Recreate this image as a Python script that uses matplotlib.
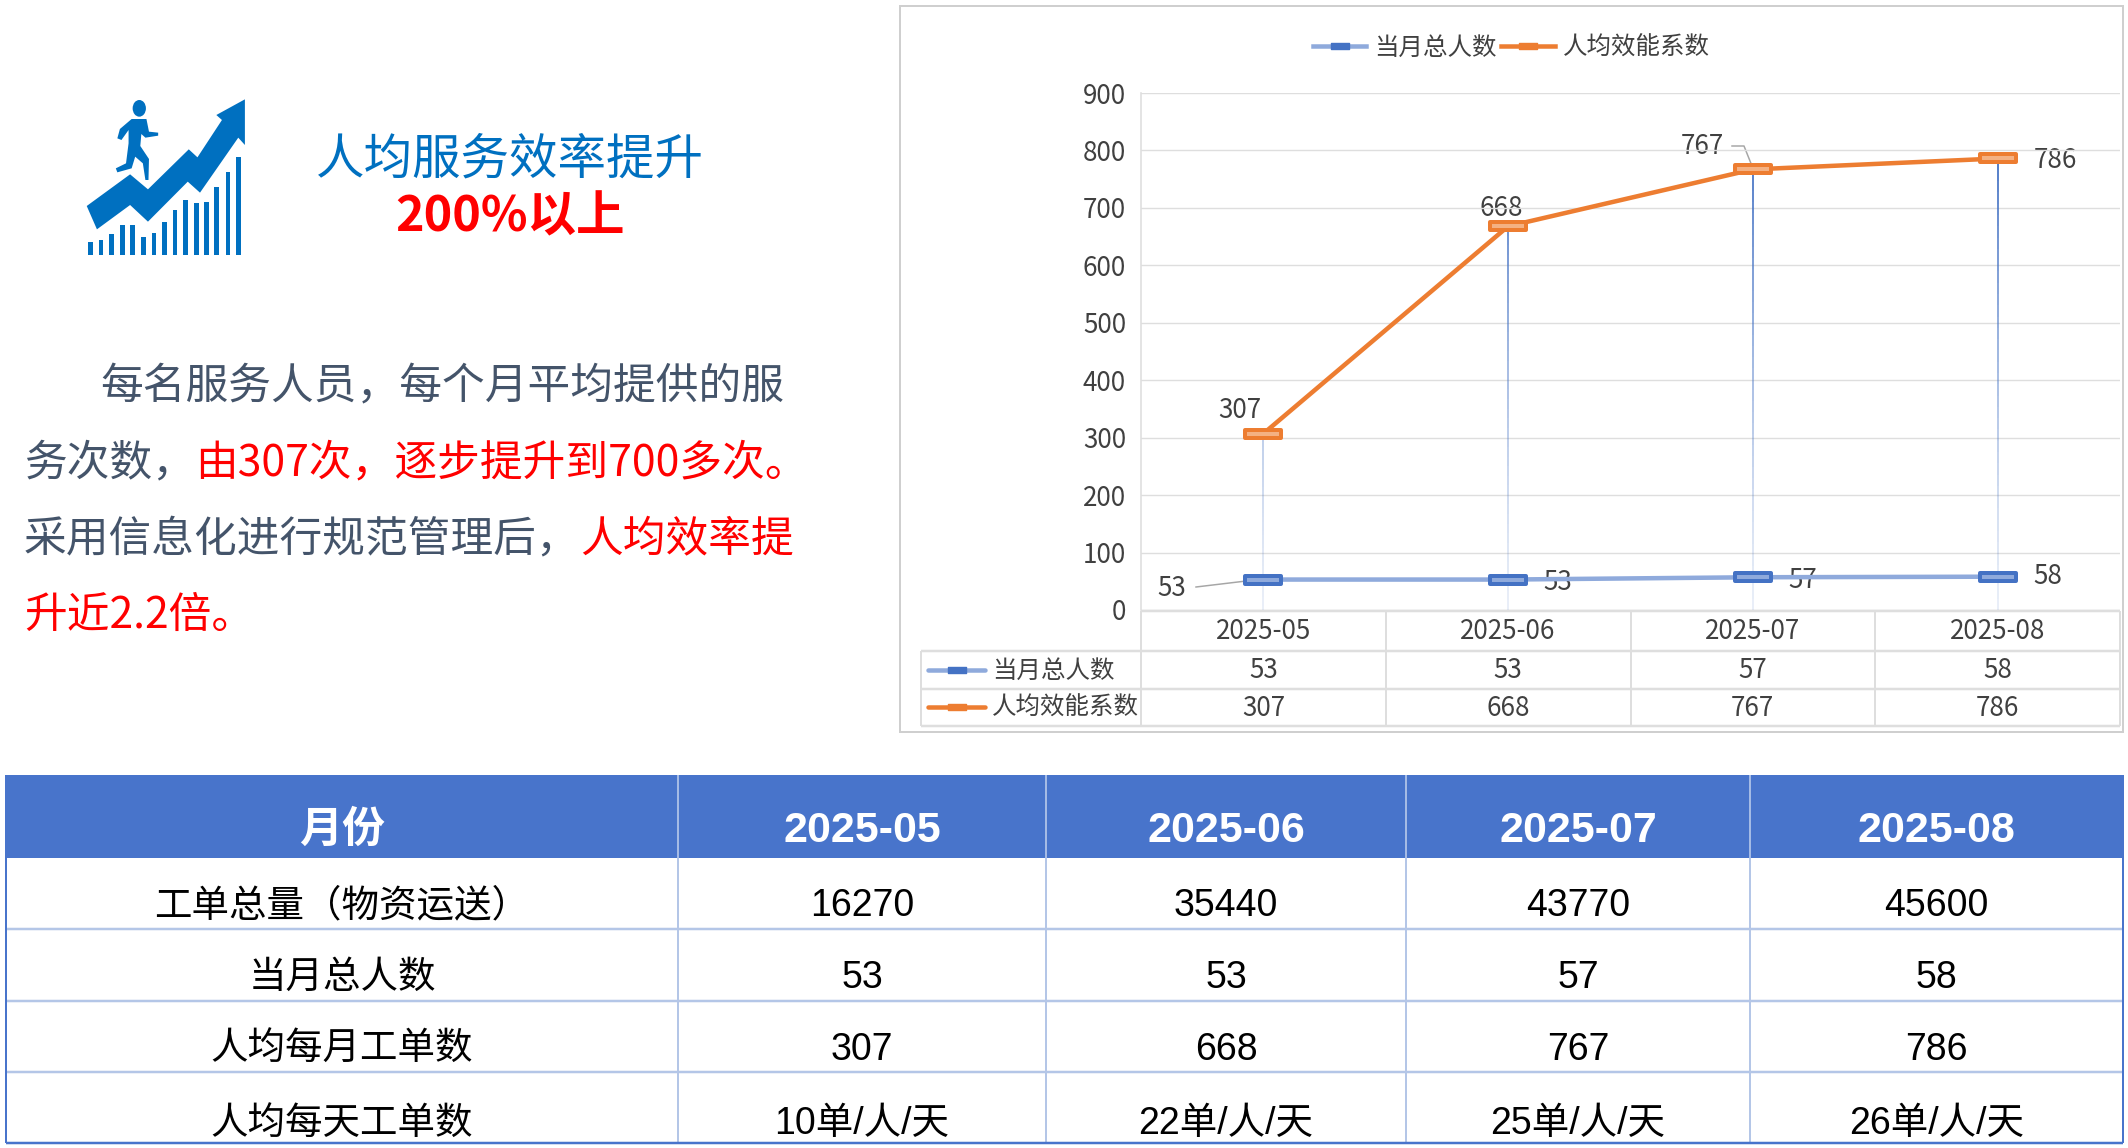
import numpy as np
from matplotlib import pyplot as plt
from matplotlib.collections import LineCollection
from matplotlib.lines import Line2D
from matplotlib.patches import Ellipse, Polygon, Rectangle
from matplotlib.path import Path

plt.rcParams['font.family'] = ['Noto Sans CJK SC', 'DejaVu Sans']

W, H = 2128, 1148

months = ['2025-05', '2025-06', '2025-07', '2025-08']
headcount = [53, 53, 57, 58]
efficiency = [307, 668, 767, 786]
y_ticks = [0, 100, 200, 300, 400, 500, 600, 700, 800, 900]
name_headcount = '当月总人数'
name_efficiency = '人均效能系数'

title_main = '人均服务效率提升'
title_sub = '200%以上'

# (text, is_red) per line
body_lines = [
    [('每名服务人员，每个月平均提供的服', False)],
    [('务次数，', False), ('由307次，逐步提升到700多次。', True)],
    [('采用信息化进行规范管理后，', False), ('人均效率提', True)],
    [('升近2.2倍。', True)],
]

table_head = ['月份'] + months
table_rows = [
    ['工单总量（物资运送）', '16270', '35440', '43770', '45600'],
    ['当月总人数', '53', '53', '57', '58'],
    ['人均每月工单数', '307', '668', '767', '786'],
    ['人均每天工单数', '10单/人/天', '22单/人/天', '25单/人/天', '26单/人/天'],
]

BLUE = '#4472C4'
BLUE_HEAD = '#4874CB'
BLUE_SOFT = '#8FAADC'
ORANGE = '#ED7D31'
ORANGE_SOFT = '#F4B183'
GREY_TXT = '#404040'
GRID = '#DEDEDE'
SLATE = '#44546A'
ROW_LINE = '#B4C6E7'
TABLE_FONT = ['Liberation Sans', 'Noto Sans CJK SC']

fig = plt.figure(figsize=(W / 100, H / 100), dpi=100, facecolor='white')

# page axes in pixel coordinates, used for layout things
page = fig.add_axes([0, 0, 1, 1], zorder=0)
page.set_xlim(0, W)
page.set_ylim(H, 0)
page.axis('off')


def px(v):
    return v * 0.72


def hline(y, x0, x1, color, lw=2):
    page.plot([x0, x1], [y, y], color=color, lw=px(lw), solid_capstyle='butt')


def vline(x, y0, y1, color, lw=2):
    page.plot([x, x], [y0, y1], color=color, lw=px(lw), solid_capstyle='butt')


# icon, outlines
def icon_xy(pts):
    return [(x / 1.96, 60 + y / 3) for x, y in pts]


ICON = '#0070C0'
arrow = [(170, 438), (255, 343), (290, 388), (370, 268), (387, 292), (435, 180), (424, 165),
         (480, 118), (480, 255), (467, 233), (392, 398), (368, 365), (290, 485), (255, 435), (190, 508)]
page.add_patch(Polygon(icon_xy(arrow), closed=True, fc=ICON, ec='none'))
skyline = [(178, 545), (198, 540), (219, 522), (240, 495), (260, 495), (282, 530), (302, 520), (323, 485),
           (343, 450), (364, 420), (385, 430), (405, 425), (425, 380), (447, 335), (467, 290)]
for bx, top in skyline:
    page.add_patch(Rectangle((bx / 1.96 - 2.4, 60 + top / 3), 4.8, (585 - top) / 3, fc=ICON, ec='none'))
page.add_patch(Ellipse((273 / 1.96, 60 + 145 / 3), 26 / 1.96, 50 / 3, fc=ICON, ec='none'))
runner = [(258, 177), (287, 177), (292, 215), (310, 218), (310, 227), (285, 233), (277, 222), (275, 258),
          (292, 297), (291, 360), (285, 360), (280, 310), (265, 290), (258, 325), (230, 337), (227, 325),
          (247, 310), (252, 250), (252, 210), (238, 240), (230, 235), (235, 207)]
page.add_patch(Polygon(icon_xy(runner), closed=True, fc=ICON, ec='none'))

# left headline
page.text(510, 160, title_main, color='#0070C0', fontsize=px(48.5), ha='center', va='center')
page.text(510, 217, title_sub, color='#FF0000', fontsize=px(48.5), fontweight='bold', ha='center', va='center')

# left paragraph, coloured runs placed one after another
renderer = fig.canvas.get_renderer()
starts = [100, 24, 24, 24]
bases = [399, 475, 551, 628]
for line, x0, base in zip(body_lines, starts, bases):
    x = x0
    for txt, red in line:
        t = page.text(x, base, txt, color='#FF0000' if red else SLATE, fontsize=px(42.7), va='baseline')
        x += t.get_window_extent(renderer).width

# chart frame
page.add_patch(Rectangle((900, 6), 1223, 726, fc='white', ec='#CFCFCF', lw=px(2)))

# chart, real data axes over the page
ax = fig.add_axes([1141 / W, (H - 610) / H, 979 / W, 517 / H], zorder=1)
ax.patch.set_alpha(0)
ax.set_xlim(0, 4)
ax.set_ylim(0, 900)
xs = np.arange(len(months)) + 0.5
ax.set_yticks(y_ticks)
ax.set_xticks(xs)
ax.set_xticklabels(months)
ax.tick_params(axis='both', length=0, labelsize=px(26), labelcolor=GREY_TXT)
ax.tick_params(axis='y', pad=px(15))
ax.tick_params(axis='x', pad=px(8))
ax.grid(axis='y', color=GRID, lw=px(1.4))
ax.set_axisbelow(True)
for side in ['top', 'right', 'bottom']:
    ax.spines[side].set_visible(False)
ax.spines['left'].set_color(GRID)
ax.spines['left'].set_linewidth(px(1.6))

# high-low lines fade out towards the axis
for x, top in zip(xs, efficiency):
    levels = np.linspace(0, top, 41)
    segs = [[(x, a), (x, b)] for a, b in zip(levels[:-1], levels[1:])]
    cols = [(0x44 / 255, 0x72 / 255, 0xC4 / 255, min(1, 0.12 + 0.88 * (b / max(efficiency)) ** 1.3))
            for b in levels[1:]]
    ax.add_collection(LineCollection(segs, colors=cols, linewidths=px(1.8), zorder=2))

box = Path([(-1, -0.2), (1, -0.2), (1, 0.2), (-1, 0.2), (-1, -0.2)], closed=True)
ax.plot(xs, headcount, color=BLUE_SOFT, lw=px(4.5), marker=box, ms=px(36), mfc=BLUE_SOFT, mec=BLUE,
        mew=px(4), zorder=3, clip_on=False)
ax.plot(xs, efficiency, color=ORANGE, lw=px(4.5), marker=box, ms=px(36), mfc=ORANGE_SOFT, mec=ORANGE,
        mew=px(4), zorder=3, clip_on=False)

# legend at the top of the chart
small_box = Path([(-1, -0.35), (1, -0.35), (1, 0.35), (-1, 0.35), (-1, -0.35)], closed=True)
handles = [
    Line2D([], [], color=BLUE_SOFT, lw=px(4.5), marker=small_box, ms=px(18), mfc=BLUE, mec=BLUE),
    Line2D([], [], color=ORANGE, lw=px(4.5), marker=small_box, ms=px(18), mfc=ORANGE, mec=ORANGE),
]
fig.legend(handles, [name_headcount, name_efficiency], loc='center', bbox_to_anchor=(1511 / W, 1 - 48 / H),
           ncol=2, frameon=False, fontsize=px(24.5), labelcolor=GREY_TXT, handlelength=2.2, handletextpad=0.3,
           columnspacing=0.2, borderpad=0, borderaxespad=0)

# data labels
label_pos_eff = [(1240, 410), (1501, 208), (1702, 147), (2055, 160)]
label_pos_head = [(1172, 589), (1558, 582), (1803, 580), (2048, 577)]
for (lx, ly), v in zip(label_pos_eff, efficiency):
    page.text(lx, ly, str(v), color=GREY_TXT, fontsize=px(26), ha='center', va='center')
for (lx, ly), v in zip(label_pos_head, headcount):
    page.text(lx, ly, str(v), color=GREY_TXT, fontsize=px(26), ha='center', va='center')
page.plot([1732, 1744, 1752], [146, 146, 166], color='#A6A6A6', lw=px(1.5))
page.plot([1196, 1263], [587, 579], color='#A6A6A6', lw=px(1.5))

# data table under the chart
col_x = [1141 + 244.75 * (i + 0.5) for i in range(len(months))]
for y in [611, 651, 689, 726]:
    hline(y, 1141 if y == 611 else 921, 2120, GRID, 2.5)
vline(921, 651, 726, GRID)
vline(1141, 611, 726, GRID)
vline(2120, 611, 726, GRID)
for i in [1, 2, 3]:
    vline(1141 + 244.75 * i, 611, 726, GRID)
table_series = [(name_headcount, headcount, 671, BLUE_SOFT, BLUE), (name_efficiency, efficiency, 708, ORANGE, ORANGE)]
for name, vals, y, line_col, mark_col in table_series:
    page.plot([928, 985], [y - 1, y - 1], color=line_col, lw=px(4.5), solid_capstyle='round')
    page.plot([956.5], [y - 1], marker=small_box, ms=px(18), mfc=mark_col, mec=mark_col)
    page.text(992, y, name, color=GREY_TXT, fontsize=px(24.5), va='center')
    for cx, v in zip(col_x, vals):
        page.text(cx, y, str(v), color=GREY_TXT, fontsize=px(26), ha='center', va='center')

# bottom table
col_edges = [6, 678, 1046, 1406, 1750, 2123]
row_edges = [775, 858, 929, 1001, 1072, 1143]
head_base = 842
row_bases = [916, 988, 1060, 1134]
page.add_patch(Rectangle((col_edges[0], row_edges[0]), col_edges[-1] - col_edges[0], row_edges[1] - row_edges[0],
                         fc=BLUE_HEAD, ec='none'))
for x in col_edges[1:-1]:
    vline(x, row_edges[0], row_edges[1], '#C5D3EE', 1.5)
    vline(x, row_edges[1], row_edges[-1], ROW_LINE, 2)
for y in row_edges[2:-1]:
    hline(y, col_edges[0], col_edges[-1], ROW_LINE, 2.5)
hline(row_edges[-1], col_edges[0], col_edges[-1], BLUE_HEAD, 2.5)
vline(col_edges[0], row_edges[0], row_edges[-1], BLUE_HEAD, 2)
vline(col_edges[-1], row_edges[0], row_edges[-1], BLUE_HEAD, 2)

centers = [(a + b) / 2 for a, b in zip(col_edges[:-1], col_edges[1:])]
for cx, txt in zip(centers, table_head):
    page.text(cx, head_base, txt, color='white', fontsize=px(43), fontweight='bold', family=TABLE_FONT,
              ha='center', va='baseline')
for base, row in zip(row_bases, table_rows):
    for cx, txt in zip(centers, row):
        page.text(cx, base, txt, color='black', fontsize=px(37.5), family=TABLE_FONT, ha='center', va='baseline')

fig.savefig('out.png', dpi=100)
